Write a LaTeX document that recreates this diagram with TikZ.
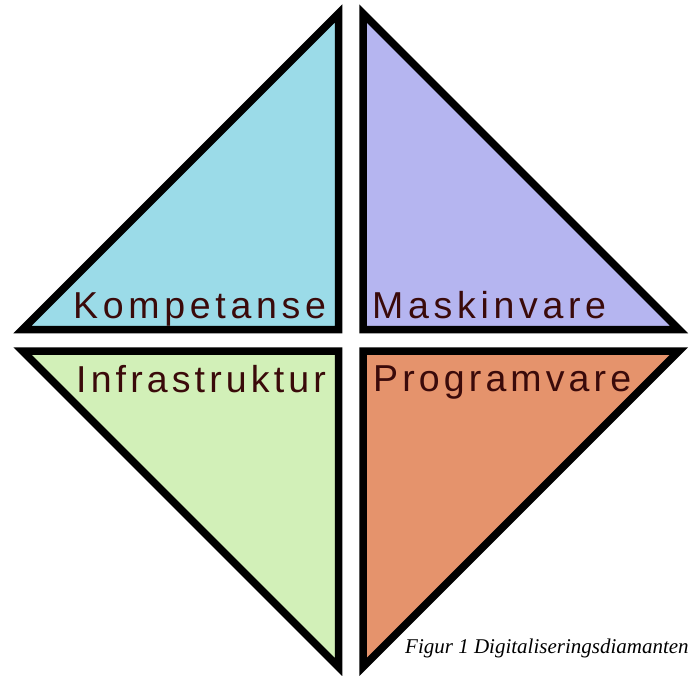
\documentclass[tikz,border=0pt]{standalone}
\usepackage{fontspec}
\setmainfont{Liberation Serif}
\newfontfamily\labfont[LetterSpace=12.5]{Liberation Sans}
\newfontfamily\labfontb[LetterSpace=11]{Liberation Sans}
\definecolor{cblue}{RGB}{155,219,232}
\definecolor{cpurple}{RGB}{181,181,240}
\definecolor{cgreen}{RGB}{210,240,184}
\definecolor{corange}{RGB}{229,147,108}
\definecolor{ctext}{RGB}{58,10,10}
\begin{document}
\begin{tikzpicture}[x=1pt,y=-1pt,
  tri/.style={draw=black,line width=7.5pt,line join=miter,miter limit=10},
  lab/.style={anchor=base west,inner sep=0pt,text=ctext,font=\labfont\fontsize{37.5}{40}\selectfont},
  labb/.style={anchor=base west,inner sep=0pt,text=ctext,font=\labfontb\fontsize{37.5}{40}\selectfont}]
\useasboundingbox (0,0) rectangle (696,675);
\coordinate (tlL) at (22.5,329.5);
\coordinate (tlA) at (338.5,13.5);
\coordinate (tlC) at (338.5,329.5);
\coordinate (trR) at (679,329.5);
\coordinate (trA) at (363,13.5);
\coordinate (trC) at (363,329.5);
\coordinate (blL) at (22.5,351);
\coordinate (blB) at (338.5,667);
\coordinate (blC) at (338.5,351);
\coordinate (brR) at (679,351);
\coordinate (brB) at (363,667);
\coordinate (brC) at (363,351);
\draw[tri,fill=cblue] (tlL) -- (tlA) -- (tlC) -- cycle;
\draw[tri,fill=cpurple] (trR) -- (trA) -- (trC) -- cycle;
\draw[tri,fill=cgreen] (blL) -- (blB) -- (blC) -- cycle;
\draw[tri,fill=corange] (brR) -- (brB) -- (brC) -- cycle;
\node[lab] (k) at (73,318) {Kompetanse};
\node[lab] (m) at (372,318) {Maskinvare};
\node[labb] (i) at (76,392) {Infrastruktur};
\node[labb] (p) at (373,391) {Programvare};
\node[anchor=base west,inner sep=0pt,font=\itshape\fontsize{21}{24}\selectfont] (cap) at (405,653) {Figur 1 Digitaliseringsdiamanten};
\end{tikzpicture}
\end{document}
